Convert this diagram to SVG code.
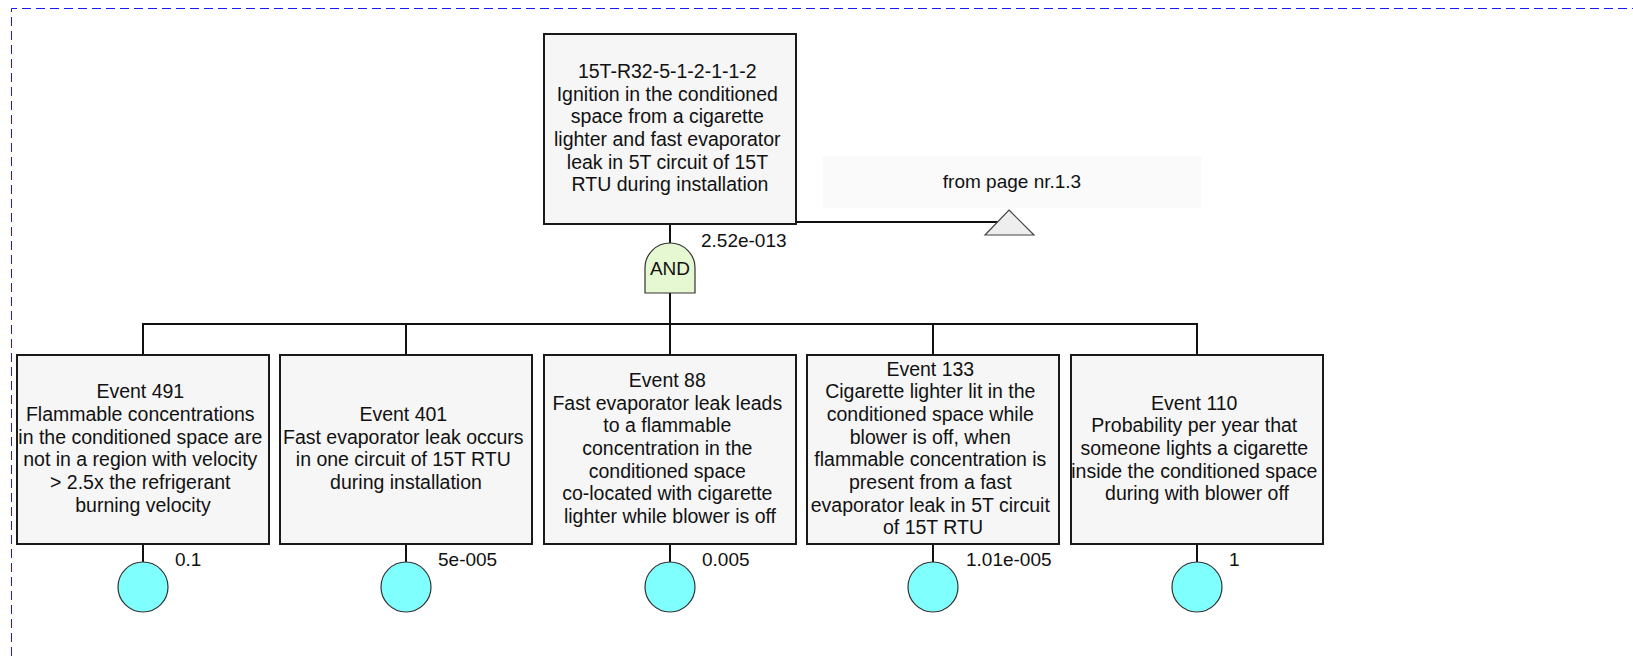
<svg xmlns="http://www.w3.org/2000/svg" width="1633" height="660" viewBox="0 0 1633 660">
<style>
  .box { fill: #f6f6f6; stroke: #1a1a1a; stroke-width: 2; }
  .txt { font-family: "Liberation Sans", Arial, sans-serif; font-size: 19.5px; fill: #111; text-anchor: middle; }
  .lbl { font-family: "Liberation Sans", Arial, sans-serif; font-size: 19px; fill: #111; }
  .wire { fill: none; stroke: #111; stroke-width: 2; }
  .basic { fill: #80ffff; stroke: #333; stroke-width: 1.2; }
  .gate { fill: #e6f8d2; stroke: #333; stroke-width: 1.2; }
  .xfer { fill: #eeeeee; stroke: #444; stroke-width: 1.2; }
  .frame { fill: none; stroke: #1a1aff; stroke-width: 1; stroke-dasharray: 9 5; }
</style>
<rect width="1633" height="660" fill="#ffffff"/>
<path class="frame" d="M11.5,670 V8.5 H1640"/>

<g id="connectors">
  <path class="wire" d="M670,243 V222 H1009"/>
  <path class="wire" d="M670,293 V324"/>
  <path class="wire" d="M143,355 V324 H1197 V355"/>
  <path class="wire" d="M406,324 V355"/>
  <path class="wire" d="M670,324 V355"/>
  <path class="wire" d="M933,324 V355"/>
  <path class="wire" d="M143,544 V562"/>
  <path class="wire" d="M406,544 V562"/>
  <path class="wire" d="M670,544 V562"/>
  <path class="wire" d="M933,544 V562"/>
  <path class="wire" d="M1197,544 V562"/>
</g>

<g id="top-event">
  <rect class="box" x="544" y="34" width="252" height="190"/>
  <text class="txt" y="78">
    <tspan x="670">15T-R32-5-1-2-1-1-2</tspan>
    <tspan x="670" dy="22.67">Ignition in the conditioned</tspan>
    <tspan x="670" dy="22.67">space from a cigarette</tspan>
    <tspan x="670" dy="22.67">lighter and fast evaporator</tspan>
    <tspan x="670" dy="22.67">leak in 5T circuit of 15T</tspan>
    <tspan x="670" dy="22.67">RTU during installation</tspan>
  </text>
  <text class="lbl" x="701" y="247">2.52e-013</text>
</g>

<g id="gate-and">
  <path class="gate" d="M645,293 V268 A25,25 0 0 1 695,268 V293 Z"/>
  <text class="lbl" x="670" y="275" text-anchor="middle">AND</text>
</g>

<g id="transfer-in">
  <rect x="823" y="156" width="378" height="52" fill="#fafafa"/>
  <text class="lbl" x="1012" y="188" text-anchor="middle">from page nr.1.3</text>
  <path class="xfer" d="M1009,210 L1034,235 L985,235 Z"/>
</g>

<g id="event-491">
  <rect class="box" x="17" y="355" width="252" height="189"/>
  <text class="txt" y="398.3">
    <tspan x="143">Event 491</tspan>
    <tspan x="143" dy="22.67">Flammable concentrations</tspan>
    <tspan x="143" dy="22.67">in the conditioned space are</tspan>
    <tspan x="143" dy="22.67">not in a region with velocity</tspan>
    <tspan x="143" dy="22.67">&gt; 2.5x the refrigerant</tspan>
    <tspan x="143" dy="22.67">burning velocity</tspan>
  </text>
  <circle class="basic" cx="143" cy="587" r="25"/>
  <text class="lbl" x="175" y="566">0.1</text>
</g>

<g id="event-401">
  <rect class="box" x="280" y="355" width="252" height="189"/>
  <text class="txt" y="421">
    <tspan x="406">Event 401</tspan>
    <tspan x="406" dy="22.67">Fast evaporator leak occurs</tspan>
    <tspan x="406" dy="22.67">in one circuit of 15T RTU</tspan>
    <tspan x="406" dy="22.67">during installation</tspan>
  </text>
  <circle class="basic" cx="406" cy="587" r="25"/>
  <text class="lbl" x="438" y="566">5e-005</text>
</g>

<g id="event-88">
  <rect class="box" x="544" y="355" width="252" height="189"/>
  <text class="txt" y="387">
    <tspan x="670">Event 88</tspan>
    <tspan x="670" dy="22.67">Fast evaporator leak leads</tspan>
    <tspan x="670" dy="22.67">to a flammable</tspan>
    <tspan x="670" dy="22.67">concentration in the</tspan>
    <tspan x="670" dy="22.67">conditioned space</tspan>
    <tspan x="670" dy="22.67">co-located with cigarette</tspan>
    <tspan x="670" dy="22.67">lighter while blower is off</tspan>
  </text>
  <circle class="basic" cx="670" cy="587" r="25"/>
  <text class="lbl" x="702" y="566">0.005</text>
</g>

<g id="event-133">
  <rect class="box" x="807" y="355" width="252" height="189"/>
  <text class="txt" y="375.7">
    <tspan x="933">Event 133</tspan>
    <tspan x="933" dy="22.67">Cigarette lighter lit in the</tspan>
    <tspan x="933" dy="22.67">conditioned space while</tspan>
    <tspan x="933" dy="22.67">blower is off, when</tspan>
    <tspan x="933" dy="22.67">flammable concentration is</tspan>
    <tspan x="933" dy="22.67">present from a fast</tspan>
    <tspan x="933" dy="22.67">evaporator leak in 5T circuit</tspan>
    <tspan x="933" dy="22.67">of 15T RTU</tspan>
  </text>
  <circle class="basic" cx="933" cy="587" r="25"/>
  <text class="lbl" x="966" y="566">1.01e-005</text>
</g>

<g id="event-110">
  <rect class="box" x="1071" y="355" width="252" height="189"/>
  <text class="txt" y="409.7">
    <tspan x="1197">Event 110</tspan>
    <tspan x="1197" dy="22.67">Probability per year that</tspan>
    <tspan x="1197" dy="22.67">someone lights a cigarette</tspan>
    <tspan x="1197" dy="22.67">inside the conditioned space</tspan>
    <tspan x="1197" dy="22.67">during with blower off</tspan>
  </text>
  <circle class="basic" cx="1197" cy="587" r="25"/>
  <text class="lbl" x="1229" y="566">1</text>
</g>
</svg>
